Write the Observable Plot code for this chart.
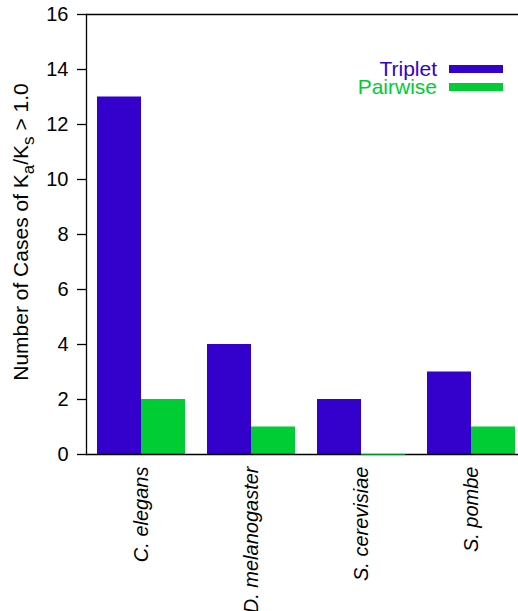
<!DOCTYPE html>
<html>
<head>
<meta charset="utf-8">
<script src="https://cdn.jsdelivr.net/npm/d3@7"></script>
<script src="https://cdn.jsdelivr.net/npm/@observablehq/plot@0.6"></script>
<style>
  html, body { margin: 0; padding: 0; background: #fff; overflow: hidden; }
  #chart { position: relative; width: 518px; height: 611px; }
</style>
</head>
<body>
<div id="chart"></div>
<script>
// Species compared and the number of cases with Ka/Ks > 1.0
const species = ["C. elegans", "D. melanogaster", "S. cerevisiae", "S. pombe"];
const triplet = [13, 4, 2, 3];
const pairwise = [2, 1, 0, 1];
const seriesNames = ["Triplet", "Pairwise"];
const seriesColors = ["#3300cc", "#00cc33"];
const yTicks = [0, 2, 4, 6, 8, 10, 12, 14, 16];

const tripletRows = species.map((s, i) => ({species: s, value: triplet[i]}));
const pairwiseRows = species.map((s, i) => ({species: s, value: pairwise[i]}));

const font = "'Liberation Sans', Arial, Helvetica, sans-serif";
const halfBar = 44;

const chart = Plot.plot({
  width: 518,
  height: 611,
  marginLeft: 86,
  marginRight: -8,
  marginTop: 14,
  marginBottom: 157,
  style: {fontFamily: font, fontSize: "20px", color: "#000", background: "#fff"},
  x: {domain: species, paddingInner: 0.2, paddingOuter: 0.1},
  y: {domain: [0, 16]},
  marks: [
    Plot.barY(tripletRows, {x: "species", y: "value", fill: seriesColors[0], insetLeft: 0, insetRight: halfBar}),
    Plot.barY(pairwiseRows, {x: "species", y: "value", fill: seriesColors[1], insetLeft: halfBar, insetRight: 0}),
    Plot.ruleY([0, 16], {stroke: "#000", strokeWidth: 1.3}),
    Plot.frame({anchor: "left", stroke: "#000", strokeWidth: 1.3}),
    Plot.tickY(pairwiseRows, {filter: d => d.value === 0, x: "species", y: "value", stroke: seriesColors[1], strokeOpacity: 0.7, insetLeft: halfBar}),
    Plot.axisY({ticks: yTicks, tickSize: 9, tickPadding: 9, label: null, fontSize: 20, strokeWidth: 1.3}),
    Plot.axisX({tickSize: 0, tickRotate: -90, tickPadding: 12, label: null, fontSize: 20, fontStyle: "italic"})
  ]
});

document.getElementById("chart").appendChild(chart);

const svg = d3.select(chart);

// Y axis title with subscripts
const yTitle = svg.append("text")
  .attr("transform", "translate(27.5,232) rotate(-90)")
  .attr("text-anchor", "middle")
  .attr("font-family", font)
  .attr("font-size", 21)
  .attr("fill", "#000");
yTitle.append("tspan").text("Number of Cases of K");
yTitle.append("tspan").attr("dy", 6).attr("font-size", 17).text("a");
yTitle.append("tspan").attr("dy", -6).text("/K");
yTitle.append("tspan").attr("dy", 6).attr("font-size", 17).text("s");
yTitle.append("tspan").attr("dy", -6).text(" > 1.0");

// Legend: label to the left, swatch to the right
const legend = svg.append("g").attr("font-family", font).attr("font-size", 21);
seriesNames.forEach((name, i) => {
  const g = legend.append("g").attr("transform", `translate(0, ${i * 18})`);
  g.append("text")
    .attr("x", 437).attr("y", 75.5)
    .attr("text-anchor", "end")
    .attr("fill", seriesColors[i])
    .text(name);
  g.append("rect")
    .attr("x", 449).attr("y", 65)
    .attr("width", 54).attr("height", 8)
    .attr("fill", seriesColors[i]);
});
</script>
</body>
</html>
